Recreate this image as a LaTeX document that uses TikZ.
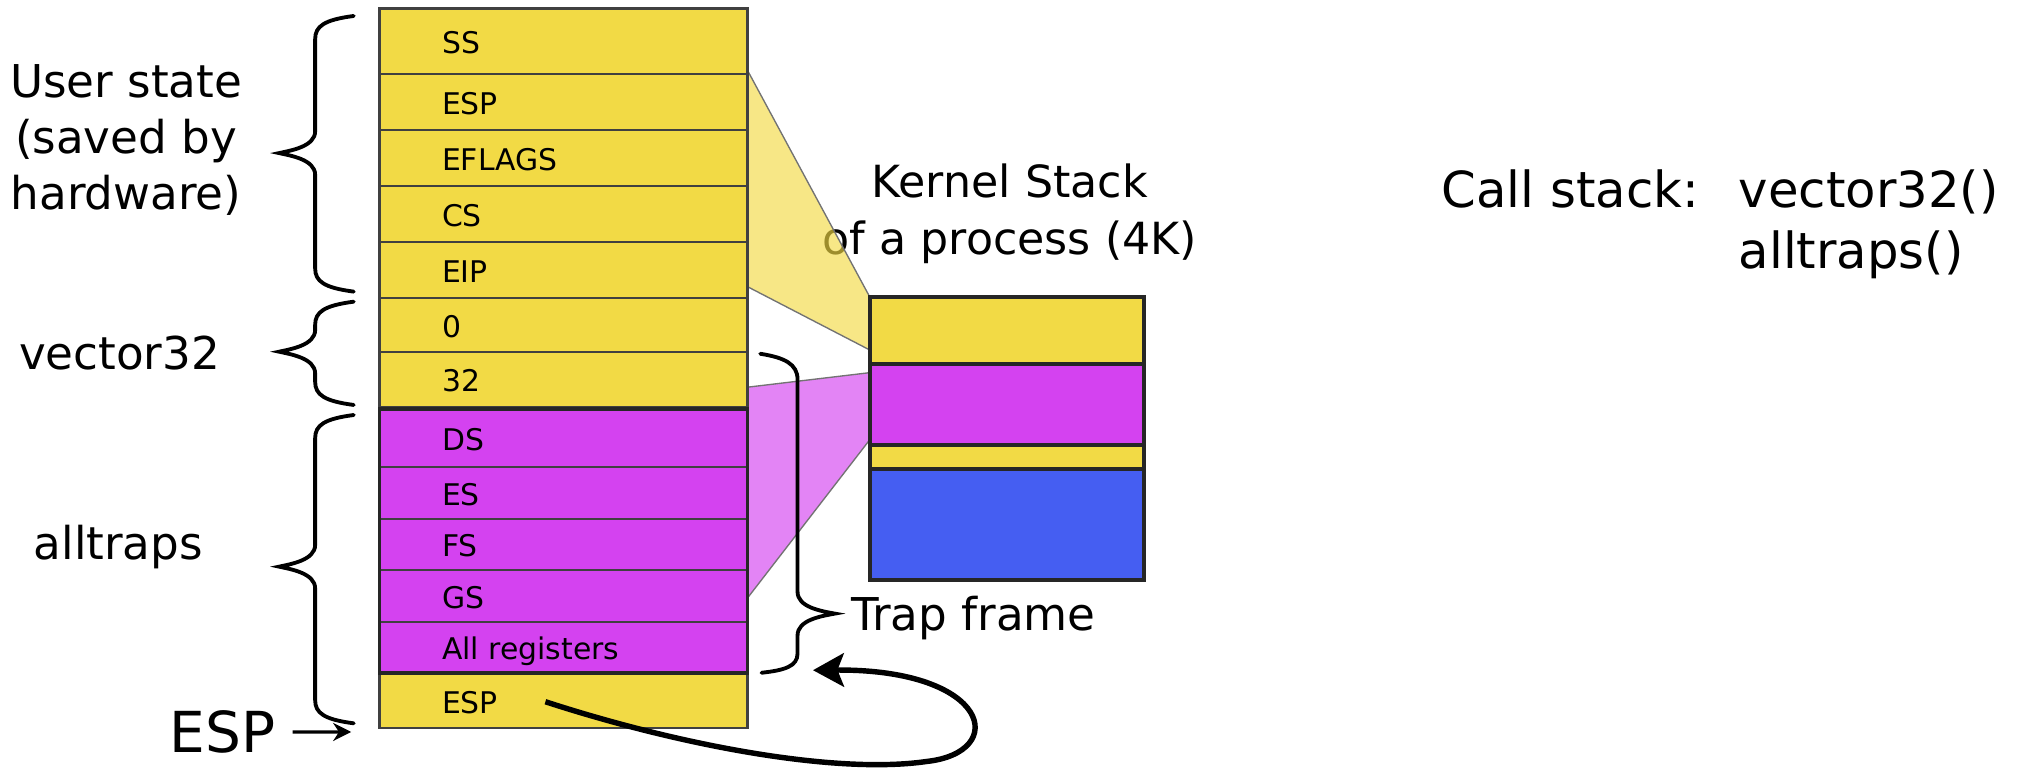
\documentclass[tikz,border=0pt]{standalone}
\usepackage{fontspec}
\setmainfont{DejaVu Sans}
\usetikzlibrary{arrows.meta}

\definecolor{stackY}{HTML}{F2DA45}
\definecolor{stackM}{HTML}{D442F0}
\definecolor{stackB}{HTML}{455EF2}

\begin{document}
\begin{tikzpicture}[y=-1cm,
    slot/.style={draw=black!75, line width=0.5pt, minimum width=2.86cm,
        inner sep=0pt, outer sep=0pt, anchor=north west},
    slottext/.style={font=\fontsize{6.6}{8}\selectfont, anchor=mid west, inner sep=0pt},
    kslot/.style={draw=black!85, line width=0.9pt, minimum width=2.13cm,
        inner sep=0pt, outer sep=0pt, anchor=north west},
    brace/.style={line width=0.85pt, line cap=round},
    proj/.style={draw=black!55, line width=0.3pt, fill opacity=0.65},
    lbl/.style={font=\fontsize{10}{12.4}\selectfont, inner sep=0pt},
]
\useasboundingbox (0,0) rectangle (15.68,5.97);

% Kernel stack caption (under the projection)
\node[font=\fontsize{9.8}{12.5}\selectfont, align=center, inner sep=0pt]
    (kcap) at (7.85,1.66) {Kernel Stack\\of a process (4K)};

% Projections onto the kernel stack
\filldraw[proj, fill=stackY] (5.81,0.545) -- (6.76,2.306) -- (6.76,2.72) -- (5.81,2.228);
\filldraw[proj, fill=stackM] (5.81,3.01) -- (6.76,2.897) -- (6.76,3.42) -- (5.81,4.65);

% Trap frame stack
\foreach \name/\txt/\top/\hgt/\col in {
    ss/SS/0.065/0.513/stackY, esp/ESP/0.578/0.435/stackY,
    eflags/EFLAGS/1.013/0.433/stackY, cs/CS/1.446/0.435/stackY,
    eip/EIP/1.881/0.436/stackY, zero/0/2.317/0.417/stackY,
    num/32/2.734/0.427/stackY,
    ds/DS/3.178/0.455/stackM, es/ES/3.633/0.402/stackM,
    fs/FS/4.035/0.396/stackM, gs/GS/4.431/0.402/stackM,
    regs/All registers/4.833/0.401/stackM,
    espb/ESP/5.234/0.428/stackY} {
    \node[slot, fill=\col, minimum height=\hgt cm] (\name) at (2.95,\top) {};
    \node[slottext] (\name-t) at ([xshift=0.48cm]\name.west) {\txt};
}
\draw[line width=0.8pt, black!85] (ds.north west) rectangle (regs.south east);

% Kernel stack of a process
\node[kslot, fill=stackY, minimum height=0.526cm] (ktop) at (6.76,2.306) {};
\node[kslot, fill=stackM, minimum height=0.628cm] (kmag) at (6.76,2.832) {};
\node[kslot, fill=stackY, minimum height=0.188cm] (kyel) at (6.76,3.460) {};
\node[kslot, fill=stackB, minimum height=0.861cm] (kblue) at (6.76,3.648) {};

% Braces on the left
\foreach \a/\m/\b in {0.124/1.19/2.267, 2.345/2.734/3.148, 3.226/4.405/5.623} {
    \draw[brace] (2.75,\a) .. controls (2.52,\a+0.03) and (2.45,\a+0.08) .. (2.45,\a+0.18)
        -- (2.45,\m-0.17) .. controls (2.45,\m-0.05) and (2.26,\m-0.02) .. (2.17,\m)
        .. controls (2.26,\m+0.02) and (2.45,\m+0.05) .. (2.45,\m+0.17)
        -- (2.45,\b-0.18) .. controls (2.45,\b-0.08) and (2.52,\b-0.03) .. (2.75,\b);
}
\node[lbl, align=center] (user) at (0.98,1.09) {User state\\(saved by\\hardware)};
\node[lbl, anchor=base] (vec) at (0.93,2.87) {vector32};
\node[lbl, anchor=base] (all) at (0.92,4.35) {alltraps};

% Trap frame brace
\draw[brace] (5.91,2.75) .. controls (6.1,2.78) and (6.2,2.83) .. (6.2,2.95)
    -- (6.2,4.6) .. controls (6.2,4.72) and (6.38,4.75) .. (6.49,4.77)
    .. controls (6.38,4.79) and (6.2,4.82) .. (6.2,4.94)
    -- (6.2,5.08) .. controls (6.2,5.18) and (6.1,5.21) .. (5.92,5.23);
\node[lbl, anchor=base west] (trap) at (6.61,4.90) {Trap frame};

% ESP pointer
\node[font=\fontsize{12.5}{15}\selectfont, inner sep=0pt, anchor=base west]
    (espl) at (1.31,5.85) {ESP};
\coordinate (esptip) at (2.73,5.69);
\draw[line width=0.7pt, -{Stealth[length=0.14cm, width=0.14cm]}]
    ([xshift=0.13cm]espl.east) -- (esptip);

% Saved ESP points back to the trap frame
\coordinate (loopstart) at (4.24,5.455);
\coordinate (loopend) at (6.32,5.21);
\draw[line width=1.2pt, -{Stealth[length=0.24cm, width=0.26cm, inset=0.05cm]}]
    (loopstart) .. controls (5.3,5.8) and (6.5,6.02) .. (7.2,5.92)
    .. controls (7.85,5.85) and (7.7,5.2) .. (loopend);

% Call stack
\node[font=\fontsize{11}{13}\selectfont, inner sep=0pt, anchor=base west]
    (calls) at (11.2,1.61) {Call stack:};
\node[font=\fontsize{11}{13}\selectfont, inner sep=0pt, anchor=base west]
    (cv) at (13.51,1.61) {vector32()};
\node[font=\fontsize{11}{13}\selectfont, inner sep=0pt, anchor=base west]
    (ca) at (13.51,2.09) {alltraps()};

\end{tikzpicture}
\end{document}
